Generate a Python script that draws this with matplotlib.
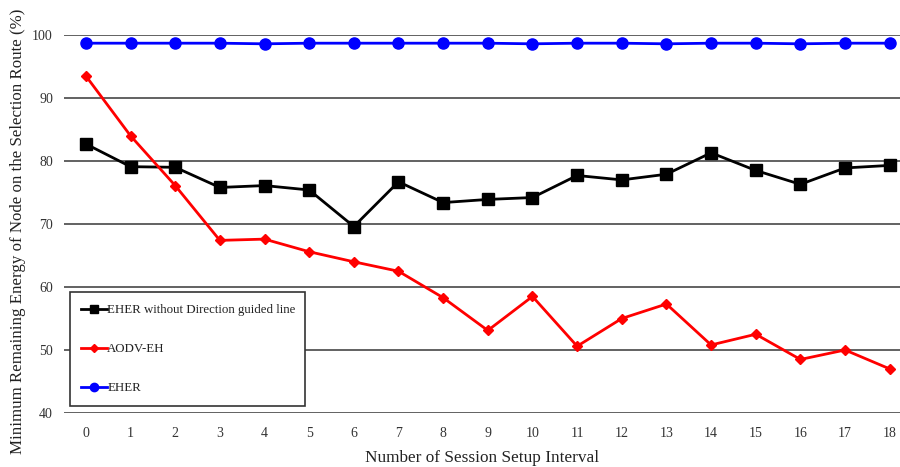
import matplotlib.pyplot as plt

plt.rcParams["font.family"] = ["Liberation Serif", "DejaVu Serif"]

intervals = list(range(19))
eher_no_dir = [82.7, 79.1, 79.0, 75.8, 76.1, 75.4, 69.6, 76.7, 73.4, 73.9,
               74.2, 77.7, 77.0, 77.9, 81.3, 78.5, 76.3, 78.9, 79.3]
aodv_eh = [93.5, 84.0, 76.1, 67.4, 67.6, 65.6, 64.0, 62.5, 58.3, 53.1,
           58.5, 50.6, 55.0, 57.3, 50.8, 52.5, 48.5, 50.0, 47.0]
eher = [98.7, 98.7, 98.7, 98.7, 98.6, 98.7, 98.7, 98.7, 98.7, 98.7,
        98.6, 98.7, 98.7, 98.6, 98.7, 98.7, 98.6, 98.7, 98.7]
y_ticks = [40, 50, 60, 70, 80, 90, 100]

fig = plt.figure(figsize=(9, 4.67), dpi=100)
ax = fig.add_axes([64 / 900, 1 - 413 / 467, 836 / 900, 378 / 467])

ax.plot(intervals, eher_no_dir, color="black", marker="s", markersize=8, lw=2,
        label="EHER without Direction guided line")
ax.plot(intervals, aodv_eh, color="red", marker="D", markersize=5, lw=2,
        label="AODV-EH")
ax.plot(intervals, eher, color="blue", marker="o", markersize=8, lw=2,
        label="EHER")

ax.set_xlim(-0.49, 18.23)
ax.set_ylim(40, 100)
ax.set_yticks(y_ticks)
ax.set_xticks(intervals)
ax.yaxis.grid(True, color="#555555", lw=1.3)
ax.set_axisbelow(True)
for s in ax.spines.values():
    s.set_visible(False)
ax.tick_params(length=0, labelsize=10, colors="#333333", pad=10)
ax.tick_params(axis="y", pad=8)

ax.set_xlabel("Number of Session Setup Interval", fontsize=12.4, labelpad=7,
              color="#222222")
ax.set_ylabel("Minimum Remaining Energy of Node on the Selection Route (%)",
              fontsize=12.2, color="#222222")
ax.yaxis.set_label_coords(-0.046, 0.481)

leg = ax.legend(loc="lower left", bbox_to_anchor=(0.007, 0.0185, 0.281, 0.3),
                mode="expand", fontsize=9.3, handlelength=2.0,
                handletextpad=0.0, labelspacing=2.1, borderpad=0.9,
                borderaxespad=0, fancybox=False, framealpha=1,
                edgecolor="#333333", markerscale=0.75)
leg.get_frame().set_linewidth(1.2)
for t in leg.get_texts():
    t.set_color("#222222")

fig.savefig("out.png", dpi=100)
